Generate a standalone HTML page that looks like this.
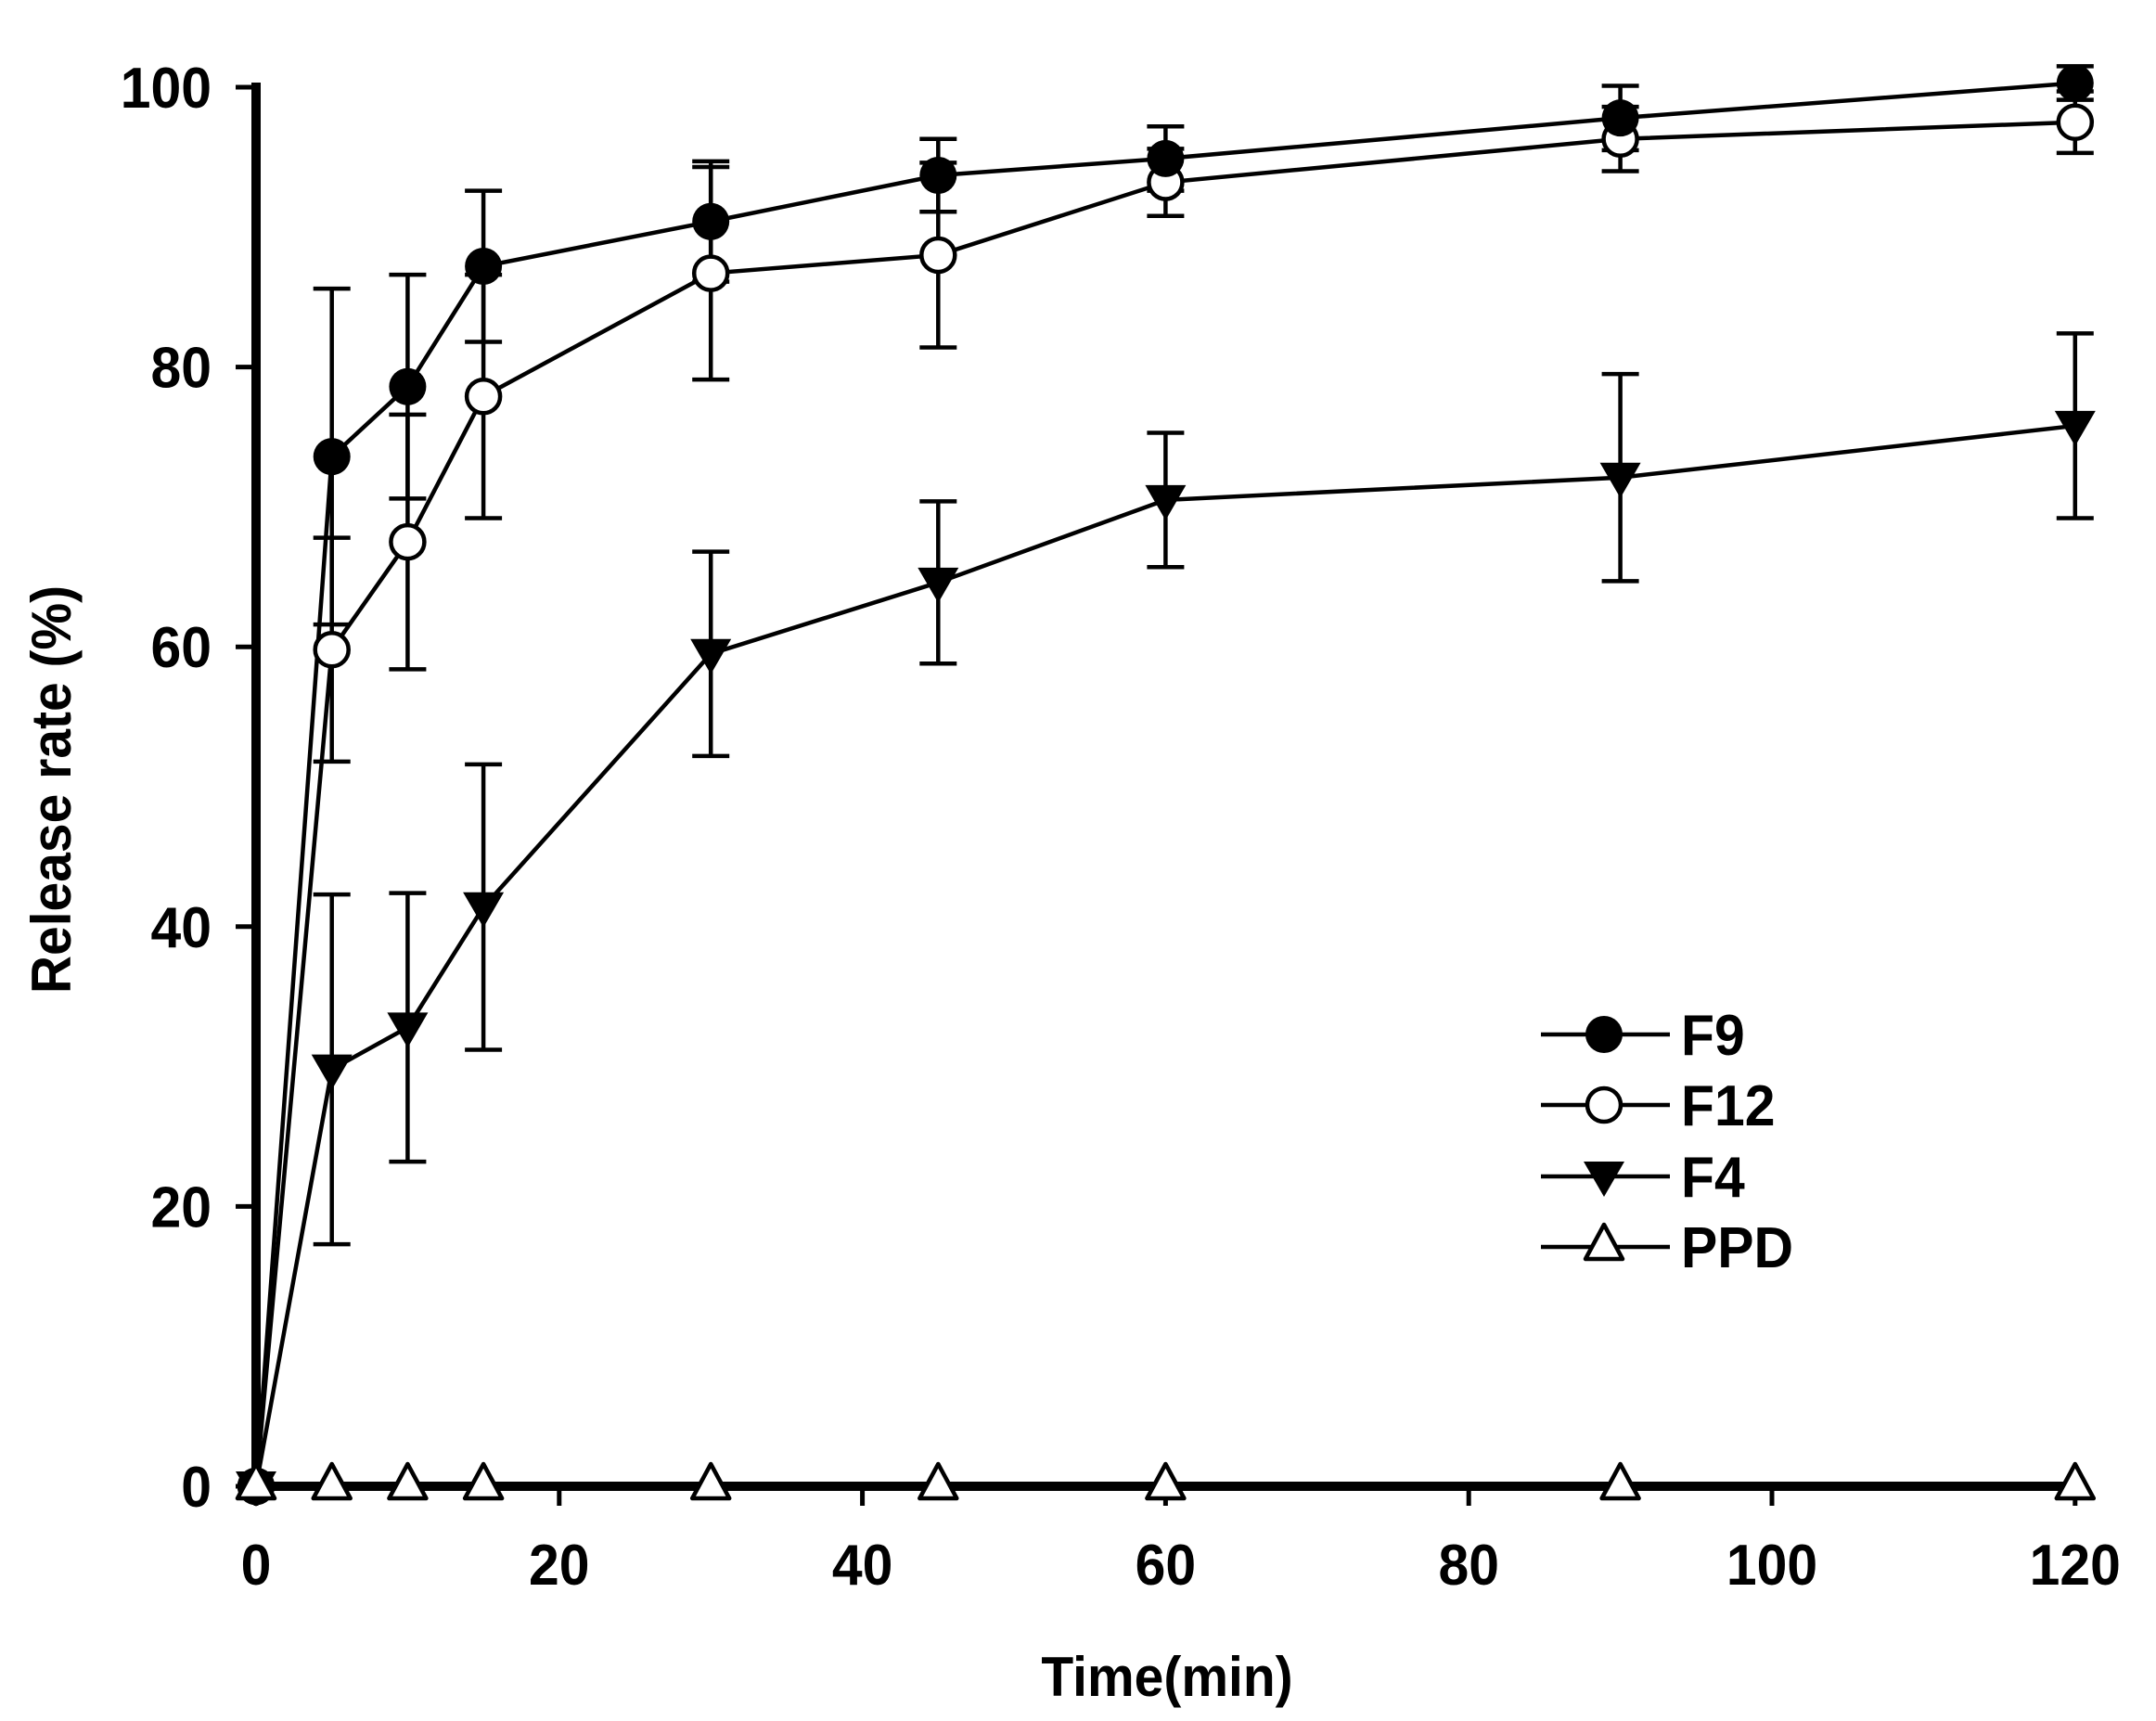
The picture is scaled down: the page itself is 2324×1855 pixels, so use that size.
<!DOCTYPE html>
<html><head><meta charset="utf-8"><style>
html,body{margin:0;padding:0;background:#fff;}
svg{display:block;}
text{font-family:"Liberation Sans",Arial,sans-serif;font-weight:bold;fill:#000;}
</style></head><body>
<svg id="s" width="2324" height="1855" viewBox="0 0 2324 1855" xmlns="http://www.w3.org/2000/svg">
<g id="g"></g>
</svg>
<script>
const X=t=>276+t*16.34, Y=v=>1602-v*15.08;
const ns="http://www.w3.org/2000/svg", g=document.getElementById('g');
function el(n,a,txt){const e=document.createElementNS(ns,n);for(const k in a)e.setAttribute(k,a[k]);if(txt!==undefined)e.textContent=txt;g.appendChild(e);return e;}
function tx(x,y,s,size,anchor,rot){const tr=rot?`translate(${x},${y}) rotate(-90) scale(0.95,1)`:`translate(${x},${y}) scale(0.95,1)`;
 return el('text',{x:0,y:0,'text-anchor':anchor||'start','font-size':size,transform:tr},s);}
const T=[0,5,10,15,30,45,60,90,120];
const F9=[[0,0],[73.6,12],[78.6,8],[87.2,5.4],[90.4,4.3],[93.7,2.6],[94.9,2.3],[97.8,2.3],[100.3,1.2]];
const F12=[[0,0],[59.8,8],[67.5,9.1],[77.9,8.7],[86.7,7.6],[88,6.6],[93.2,2.4],[96.3,2.3],[97.5,2.2]];
const F4=[[0,0],[29.8,12.5],[32.8,9.6],[41.4,10.2],[59.5,7.3],[64.6,5.8],[70.5,4.8],[72.1,7.4],[75.8,6.6]];
[F9,F12,F4].forEach(s=>s.forEach((p,i)=>{if(!p[1])return;const x=X(T[i]),a=Y(p[0]-p[1]),b=Y(p[0]+p[1]);
el('line',{x1:x,x2:x,y1:a,y2:b,stroke:'#000','stroke-width':4.5});
el('line',{x1:x-20,x2:x+20,y1:a,y2:a,stroke:'#000','stroke-width':4.5});
el('line',{x1:x-20,x2:x+20,y1:b,y2:b,stroke:'#000','stroke-width':4.5});}));
el('line',{x1:276,x2:276,y1:89,y2:1607,stroke:'#000','stroke-width':10});
el('line',{x1:271,x2:X(120)+4,y1:1602,y2:1602,stroke:'#000','stroke-width':10});
for(let v=0;v<=100;v+=20){const y=Y(v);el('line',{x1:254,x2:276,y1:y,y2:y,stroke:'#000','stroke-width':5});
tx(228,y+22,v,62,'end');}
for(let t=0;t<=120;t+=20){const x=X(t);el('line',{x1:x,x2:x,y1:1602,y2:1623,stroke:'#000','stroke-width':5});
tx(x,1708,t,62,'middle');}
tx(1258,1828,'Time(min)',60,'middle');
tx(76,851,'Release rate (%)',60,'middle',true);
function line(s){el('polyline',{points:s.map((p,i)=>X(T[i])+','+Y(p[0])).join(' '),fill:'none',stroke:'#000','stroke-width':4.5});}
line(F4);line(F12);line(F9);
function mark(type,x,y){
 if(type==='fc')el('circle',{cx:x,cy:y,r:20,fill:'#000'});
 if(type==='oc')el('circle',{cx:x,cy:y,r:18,fill:'#fff',stroke:'#000','stroke-width':4.5});
 if(type==='dt')el('polygon',{points:`${x-22},${y-16} ${x+22},${y-16} ${x},${y+22}`,fill:'#000'});
 if(type==='ut')el('polygon',{points:`${x-20},${y+13} ${x+20},${y+13} ${x},${y-24}`,fill:'#fff',stroke:'#000','stroke-width':4.5,'stroke-linejoin':'round'});
}
F4.forEach((p,i)=>mark('dt',X(T[i]),Y(p[0])));
F12.forEach((p,i)=>mark('oc',X(T[i]),Y(p[0])));
F9.forEach((p,i)=>mark('fc',X(T[i]),Y(p[0])));
T.forEach(t=>mark('ut',X(t),1602));
[['fc','F9',1115],['oc','F12',1191],['dt','F4',1268],['ut','PPD',1344]].forEach(([m,l,y])=>{
el('line',{x1:1661,x2:1800,y1:y,y2:y,stroke:'#000','stroke-width':4.5});mark(m,1729,y);
tx(1812,y+22,l,62,'start');});
</script>
</body></html>
